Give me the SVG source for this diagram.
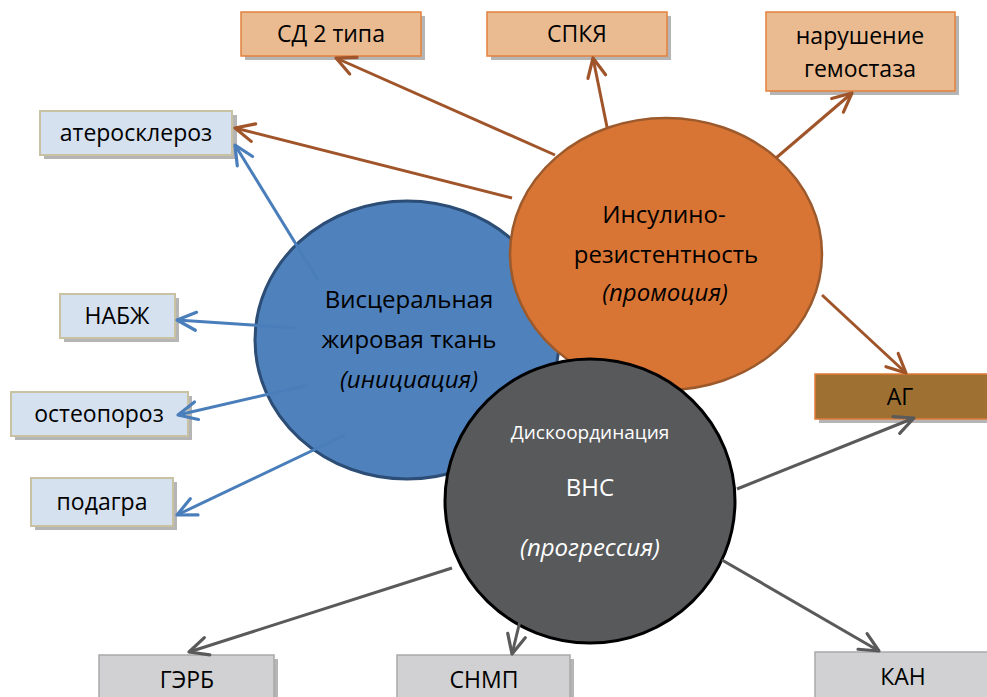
<svg xmlns="http://www.w3.org/2000/svg" width="987" height="697" viewBox="0 0 987 697">
<style>
text{font-family:"Open Sans","Noto Sans","Liberation Sans",sans-serif;text-anchor:middle}
.bt{font-size:23px;fill:#000}
.big{font-size:24px}
.it{font-style:italic}
.sh{fill:#b5b5b5}
.ob{fill:#eabb91;stroke:#e3813c;stroke-width:1.5}
.bb{fill:#d5e1ef;stroke:#c9c2a2;stroke-width:2}
.gb{fill:#d1d1d3;stroke:#a9a9a9;stroke-width:1.5}
.co{stroke:#a0542a;stroke-width:3;fill:none;marker-end:url(#ao)}
.cb{stroke:#4a7ebb;stroke-width:3;fill:none;marker-end:url(#ab)}
.cg{stroke:#5a5a5a;stroke-width:3;fill:none;marker-end:url(#ag)}
</style>
<defs>
<marker id="ao" viewBox="0 0 12 12" refX="11" refY="6" markerWidth="8" markerHeight="8" orient="auto" markerUnits="strokeWidth"><path d="M1.5,1.5 L11,6 L1.5,10.5" fill="none" stroke="#a0542a" stroke-width="1.6" stroke-linecap="round" stroke-linejoin="round"/></marker>
<marker id="ab" viewBox="0 0 12 12" refX="11" refY="6" markerWidth="8" markerHeight="8" orient="auto" markerUnits="strokeWidth"><path d="M1.5,1.5 L11,6 L1.5,10.5" fill="none" stroke="#4a7ebb" stroke-width="1.6" stroke-linecap="round" stroke-linejoin="round"/></marker>
<marker id="ag" viewBox="0 0 12 12" refX="11" refY="6" markerWidth="8" markerHeight="8" orient="auto" markerUnits="strokeWidth"><path d="M1.5,1.5 L11,6 L1.5,10.5" fill="none" stroke="#5a5a5a" stroke-width="1.6" stroke-linecap="round" stroke-linejoin="round"/></marker>
</defs>
<rect width="987" height="697" fill="#fff"/>

<g id="visceral">
<ellipse cx="407" cy="340" rx="152" ry="139" fill="#4f81bd" stroke="#2c4d75" stroke-width="3"/>
<text class="bt big" x="409" y="308">Висцеральная</text>
<text class="bt big" x="409" y="348">жировая ткань</text>
<text class="bt big it" x="409" y="388">(инициация)</text>
</g>
<g id="insulin">
<ellipse cx="666" cy="254" rx="156" ry="136" fill="#d87535" stroke="#9c5a2c" stroke-width="2.5"/>
<text class="bt big" x="664" y="223">Инсулино-</text>
<text class="bt big" x="666" y="263">резистентность</text>
<text class="bt big it" x="665" y="301">(промоция)</text>
</g>
<g id="vns">
<ellipse cx="590" cy="501" rx="145" ry="142" fill="#58595b" stroke="#000" stroke-width="3"/>
<text x="590" y="439" font-size="19" fill="#fff">Дискоординация</text>
<text x="590" y="496" font-size="24" fill="#fff">ВНС</text>
<text x="590" y="556" font-size="24" fill="#fff" font-style="italic">(прогрессия)</text>
</g>

<g id="sd2">
<rect class="sh" x="245" y="16" width="180" height="44"/>
<rect class="ob" x="241" y="12" width="180" height="44"/>
<text class="bt" x="331" y="42">СД 2 типа</text>
</g>
<g id="spkya">
<rect class="sh" x="491" y="16" width="180" height="44"/>
<rect class="ob" x="487" y="12" width="180" height="44"/>
<text class="bt" x="577" y="42">СПКЯ</text>
</g>
<g id="gemostaz">
<rect class="sh" x="770" y="16" width="189" height="79"/>
<rect class="ob" x="766" y="12" width="189" height="79"/>
<text class="bt" x="860" y="44">нарушение</text>
<text class="bt" x="860" y="77">гемостаза</text>
</g>
<g id="ateroskleroz">
<rect class="sh" x="44" y="115" width="193" height="44"/>
<rect class="bb" x="40" y="111" width="192" height="44"/>
<text class="bt" x="136" y="141">атеросклероз</text>
</g>
<g id="nabzh">
<rect class="sh" x="64" y="298" width="115" height="44"/>
<rect class="bb" x="60" y="294" width="115" height="44"/>
<text class="bt" x="117" y="324">НАБЖ</text>
</g>
<g id="osteoporoz">
<rect class="sh" x="15" y="396" width="177" height="44"/>
<rect class="bb" x="11" y="392" width="177" height="44"/>
<text class="bt" x="99" y="422">остеопороз</text>
</g>
<g id="podagra">
<rect class="sh" x="35" y="482" width="142" height="48"/>
<rect class="bb" x="31" y="478" width="142" height="48"/>
<text class="bt" x="102" y="510">подагра</text>
</g>
<g id="ag">
<rect class="sh" x="819" y="378" width="170" height="45"/>
<rect x="815" y="374" width="176" height="45" fill="#9e7133" stroke="#e07b39" stroke-width="1.5"/>
<text class="bt" x="900" y="405">АГ</text>
</g>
<g id="gerb">
<rect class="sh" x="103" y="659" width="175" height="42"/>
<rect class="gb" x="99" y="655" width="175" height="46"/>
<text class="bt" x="187" y="688">ГЭРБ</text>
</g>
<g id="snmp">
<rect class="sh" x="401" y="659" width="173" height="42"/>
<rect class="gb" x="397" y="655" width="173" height="46"/>
<text class="bt" x="484" y="688">СНМП</text>
</g>
<g id="kan">
<rect class="sh" x="819" y="656" width="172" height="45"/>
<rect class="gb" x="815" y="652" width="176" height="49"/>
<text class="bt" x="903" y="685">КАН</text>
</g>

<g id="connectors">
<path class="co" d="M555,155 L336,58"/>
<path class="co" d="M607,127 L593,58"/>
<path class="co" d="M776,158 L852,93"/>
<path class="co" d="M512,198 L235,128"/>
<path class="co" d="M822,295 L906,373"/>
<path class="cb" d="M318,280 L235,145"/>
<path class="cb" d="M295,328 L177,320"/>
<path class="cb" d="M308,385 L178,415"/>
<path class="cb" d="M345,435 L177,515"/>
<path class="cg" d="M737,489 L914,418"/>
<path class="cg" d="M452,568 L189,652"/>
<path class="cg" d="M521,617 L512,654"/>
<path class="cg" d="M722,560 L879,651"/>
</g>
</svg>
